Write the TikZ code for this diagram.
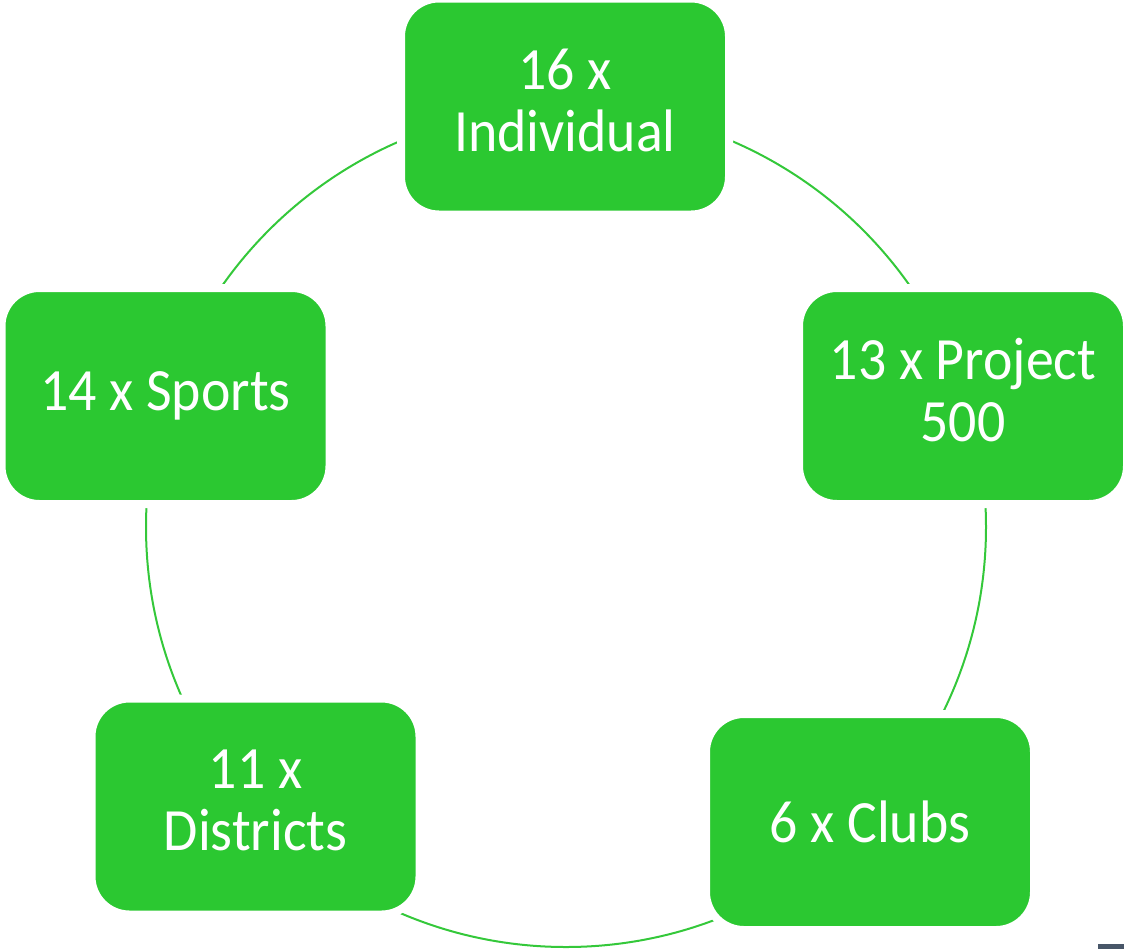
\documentclass[tikz,border=0pt]{standalone}
\usepackage{fontspec}
\setmainfont{Carlito}[FakeStretch=0.93]
\usetikzlibrary{backgrounds}
\definecolor{boxgreen}{RGB}{43,200,49}
\definecolor{ringgreen}{RGB}{52,200,58}
\definecolor{barblue}{RGB}{72,86,104}
\begin{document}
\begin{tikzpicture}[x=0.5pt,y=-0.5pt,
  box/.style={draw=white,line width=4pt,fill=boxgreen,rounded corners=19pt,
    minimum width=164pt,minimum height=108pt,text=white,align=center,
    font=\fontsize{30pt}{31pt}\selectfont,inner sep=0pt},
  twoline/.style={text depth=6pt},
  ring/.style={draw=ringgreen,line width=1pt}]
\useasboundingbox (0,0) rectangle (1124,949);
\coordinate (c) at (566,527);
\node[box,twoline] (ind) at (565,106.5) {16 x\\Individual};
\node[box,twoline] (proj) at (963,396) {13 x Project\\500};
\node[box] (clubs) at (870,822) {6 x Clubs};
\node[box,twoline] (dist) at (255.5,806.5) {11 x\\Districts};
\node[box] (sports) at (165.5,396) {14 x Sports};
\begin{scope}[on background layer]
\draw[ring] (c) circle[radius=210pt];
\end{scope}
\fill[barblue] (1098,944) rectangle (1124,949);
\end{tikzpicture}
\end{document}
